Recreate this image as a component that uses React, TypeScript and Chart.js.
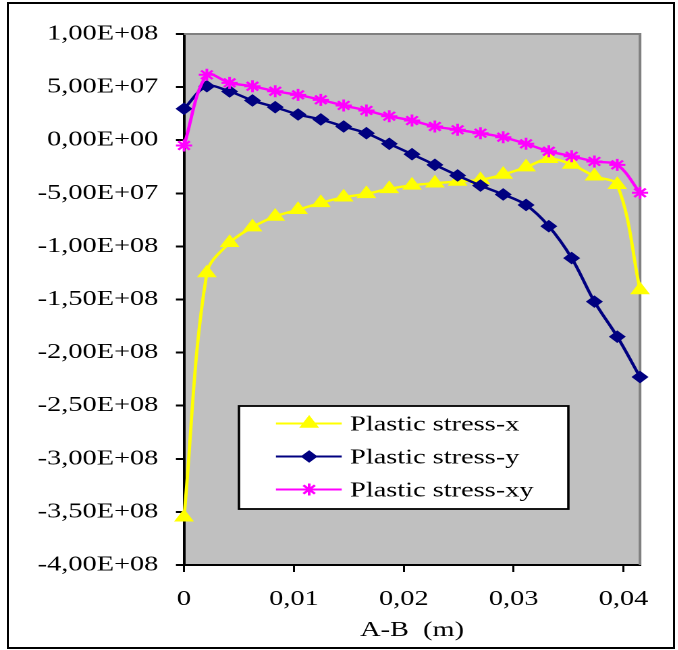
import React, { useEffect, useRef } from "react";
import { Chart, registerables } from "chart.js";
import { drawPoint } from "chart.js/helpers";

Chart.register(...registerables);

// Distance along the A-B path (m)
const DISTANCE = [
  0, 0.00208, 0.00415, 0.00623, 0.0083, 0.01038, 0.01245, 0.01453, 0.0166, 0.01868, 0.02075,
  0.02283, 0.0249, 0.02698, 0.02905, 0.03113, 0.0332, 0.03528, 0.03735, 0.03943, 0.0415,
];

// Plastic stress components (Pa)
const STRESS_X = [
  -3.55e8, -1.25e8, -9.66e7, -8.19e7, -7.18e7, -6.55e7, -5.9e7, -5.37e7, -5.05e7, -4.58e7, -4.25e7,
  -4.05e7, -3.89e7, -3.73e7, -3.23e7, -2.54e7, -1.75e7, -2.29e7, -3.39e7, -4.2e7, -1.41e8,
];
const STRESS_Y = [
  2.96e7, 5.08e7, 4.59e7, 3.74e7, 3.11e7, 2.42e7, 1.95e7, 1.29e7, 0.66e7, -0.34e7, -1.32e7,
  -2.32e7, -3.32e7, -4.27e7, -5.11e7, -6.1e7, -8.1e7, -1.11e8, -1.52e8, -1.85e8, -2.23e8,
];
const STRESS_XY = [
  -0.5e7, 6.16e7, 5.4e7, 5.08e7, 4.61e7, 4.27e7, 3.8e7, 3.27e7, 2.8e7, 2.26e7, 1.85e7,
  1.29e7, 0.98e7, 0.66e7, 0.28e7, -0.34e7, -1.04e7, -1.51e7, -2.0e7, -2.32e7, -4.95e7,
];

const SERIES_LABELS = ["Plastic stress-x", "Plastic stress-y", "Plastic stress-xy"];

const X_TICKS = [0, 0.01, 0.02, 0.03, 0.04];
const Y_TICKS = [1e8, 5e7, 0, -5e7, -1e8, -1.5e8, -2e8, -2.5e8, -3e8, -3.5e8, -4e8];
const X_MAX = 0.0415;

const X_TITLE = "A-B  (m)";

// The drawing is made on a narrower canvas and widened horizontally.
const STRETCH = 1.35;
const PAGE_W = 678;
const PAGE_H = 650;
const BASE_W = PAGE_W / STRETCH;
const PLOT_LEFT = 136.3;
const PLOT_RIGHT = 474.1;
const PLOT_TOP = 34;
const PLOT_BOTTOM = 565;

const SERIF = "'Liberation Serif', 'Times New Roman', serif";

function sciLabel(v: number): string {
  const [mant, exp] = v.toExponential(2).split("e");
  const n = parseInt(exp, 10);
  const sign = n < 0 ? "-" : "+";
  return mant.replace(".", ",") + "E" + sign + String(Math.abs(n)).padStart(2, "0");
}

function distLabel(v: number): string {
  if (Math.abs(v) < 1e-12) return "0";
  return v.toFixed(2).replace(".", ",");
}

const plotBackground = {
  id: "plotBackground",
  beforeDraw(chart: any) {
    const { ctx, chartArea } = chart;
    const { left, top, right, bottom } = chartArea;
    ctx.save();
    ctx.fillStyle = "#C0C0C0";
    ctx.fillRect(left, top, right - left, bottom - top);
    ctx.restore();
  },
  beforeDatasetsDraw(chart: any) {
    const { ctx, chartArea } = chart;
    const { left, top, right, bottom } = chartArea;
    ctx.save();
    ctx.strokeStyle = "#808080";
    ctx.lineWidth = 2;
    ctx.beginPath();
    ctx.moveTo(left, top);
    ctx.lineTo(right, top);
    ctx.lineTo(right, bottom);
    ctx.stroke();
    ctx.restore();
  },
};

const boxedLegend = {
  id: "boxedLegend",
  afterDraw(chart: any) {
    const { ctx } = chart;
    const boxL = 177;
    const boxR = 421;
    const boxT = 406;
    const boxB = 509;
    ctx.save();
    ctx.fillStyle = "#FFFFFF";
    ctx.fillRect(boxL, boxT, boxR - boxL, boxB - boxT);
    ctx.strokeStyle = "#000000";
    ctx.lineWidth = 1.8;
    ctx.strokeRect(boxL, boxT, boxR - boxL, boxB - boxT);

    const lineX0 = 204.4;
    const lineX1 = 253.1;
    const markX = 229;
    const textX = 259.3;
    const baselines = [430.5, 463.5, 496.5];

    chart.data.datasets.forEach((ds: any, i: number) => {
      const base = baselines[i];
      const cy = base - 7;
      ctx.strokeStyle = ds.borderColor;
      ctx.lineWidth = 2;
      ctx.beginPath();
      ctx.moveTo(lineX0, cy);
      ctx.lineTo(lineX1, cy);
      ctx.stroke();

      ctx.fillStyle = ds.pointBackgroundColor;
      ctx.strokeStyle = ds.pointBorderColor;
      ctx.lineWidth = ds.pointBorderWidth;
      drawPoint(
        ctx,
        { pointStyle: ds.pointStyle, rotation: 0, radius: ds.pointRadius, borderWidth: ds.pointBorderWidth },
        markX,
        cy
      );

      ctx.fillStyle = "#000000";
      ctx.font = `21px ${SERIF}`;
      ctx.textAlign = "left";
      ctx.textBaseline = "alphabetic";
      ctx.fillText(ds.label, textX, base);
    });
    ctx.restore();
  },
};

function toPoints(ys: number[]) {
  return DISTANCE.map((x, i) => ({ x, y: ys[i] }));
}

export default function App() {
  const canvasRef = useRef<HTMLCanvasElement | null>(null);

  useEffect(() => {
    if (!canvasRef.current) return;
    const tickFont = { family: SERIF, size: 21 };
    const chart = new Chart(canvasRef.current, {
      type: "line",
      data: {
        datasets: [
          {
            label: SERIES_LABELS[0],
            data: toPoints(STRESS_X),
            borderColor: "#FFFF00",
            backgroundColor: "#FFFF00",
            borderWidth: 2.4,
            pointStyle: "triangle",
            pointRadius: 7.5,
            pointBackgroundColor: "#FFFF00",
            pointBorderColor: "#FFFF00",
            pointBorderWidth: 1,
            tension: 0.35,
            clip: false,
            order: 2,
          },
          {
            label: SERIES_LABELS[1],
            data: toPoints(STRESS_Y),
            borderColor: "#000080",
            backgroundColor: "#000080",
            borderWidth: 2.4,
            pointStyle: "rectRot",
            pointRadius: 5.6,
            pointBackgroundColor: "#000080",
            pointBorderColor: "#000080",
            pointBorderWidth: 1,
            tension: 0.35,
            clip: false,
            order: 1,
          },
          {
            label: SERIES_LABELS[2],
            data: toPoints(STRESS_XY),
            borderColor: "#FF00FF",
            backgroundColor: "#FF00FF",
            borderWidth: 2.4,
            pointStyle: "star",
            pointRadius: 6,
            pointBackgroundColor: "#FF00FF",
            pointBorderColor: "#FF00FF",
            pointBorderWidth: 2,
            tension: 0.35,
            clip: false,
            order: 0,
          },
        ],
      } as any,
      options: {
        animation: false,
        responsive: true,
        maintainAspectRatio: false,
        devicePixelRatio: 2,
        events: [],
        layout: {
          padding: { left: 0, right: BASE_W - PLOT_RIGHT, top: PLOT_TOP, bottom: 0 },
        },
        plugins: {
          legend: { display: false },
          tooltip: { enabled: false },
          title: { display: false },
        },
        scales: {
          x: {
            type: "linear",
            min: 0,
            max: X_MAX,
            afterBuildTicks: (scale: any) => {
              scale.ticks = X_TICKS.map((value) => ({ value }));
            },
            afterFit: (scale: any) => {
              scale.height = PAGE_H - PLOT_BOTTOM;
            },
            ticks: {
              callback: (v: any) => distLabel(Number(v)),
              color: "#000000",
              font: tickFont,
              padding: 15,
              maxRotation: 0,
              autoSkip: false,
            },
            grid: {
              drawOnChartArea: false,
              drawTicks: true,
              tickLength: 7,
              tickColor: "#000000",
              lineWidth: 1.5,
            },
            border: { color: "#000000", width: 2 },
            title: {
              display: true,
              text: X_TITLE,
              color: "#000000",
              font: tickFont,
              padding: { top: 0, bottom: 7 },
            },
          },
          y: {
            type: "linear",
            min: -4e8,
            max: 1e8,
            afterBuildTicks: (scale: any) => {
              scale.ticks = Y_TICKS.map((value) => ({ value }));
            },
            afterFit: (scale: any) => {
              scale.width = PLOT_LEFT;
            },
            ticks: {
              callback: (v: any) => sciLabel(Number(v)),
              color: "#000000",
              font: tickFont,
              padding: 13,
              autoSkip: false,
            },
            grid: {
              drawOnChartArea: false,
              drawTicks: true,
              tickLength: 6,
              tickColor: "#000000",
              lineWidth: 2,
            },
            border: { color: "#000000", width: 2 },
          },
        },
      } as any,
      plugins: [plotBackground, boxedLegend],
    });
    return () => chart.destroy();
  }, []);

  return (
    <div
      style={{
        position: "absolute",
        left: 0,
        top: 0,
        width: PAGE_W,
        height: PAGE_H,
        background: "#FFFFFF",
        overflow: "hidden",
      }}
    >
      <div
        style={{
          position: "absolute",
          left: 0,
          top: 0,
          width: BASE_W,
          height: PAGE_H,
          transform: `scaleX(${STRETCH})`,
          transformOrigin: "0 0",
        }}
      >
        <canvas ref={canvasRef} />
      </div>
      <div
        style={{
          position: "absolute",
          left: 7,
          top: 2,
          width: 668,
          height: 647,
          border: "2px solid #000000",
          boxSizing: "border-box",
          pointerEvents: "none",
        }}
      />
    </div>
  );
}
